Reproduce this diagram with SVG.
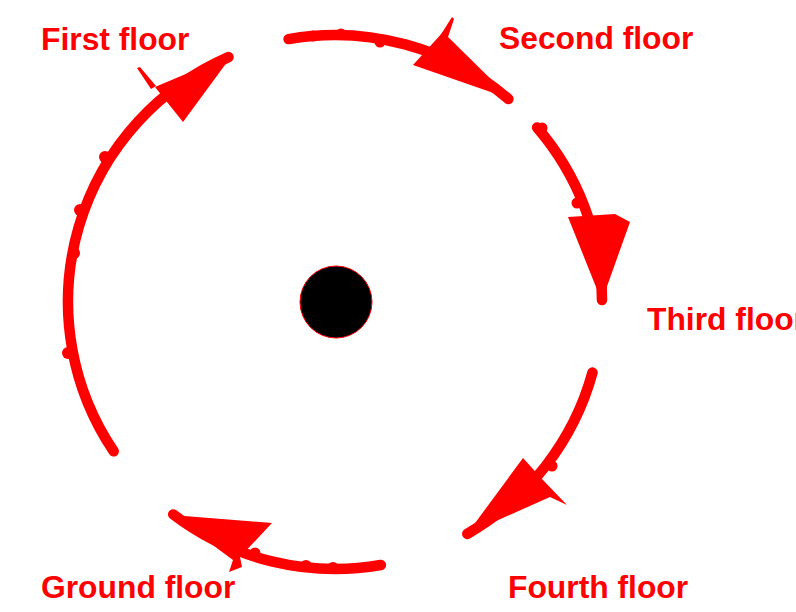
<svg xmlns="http://www.w3.org/2000/svg" width="796" height="612" viewBox="0 0 796 612">
<style>
.arc{fill:none;stroke:#ff0000;stroke-width:10.5;stroke-linecap:round;stroke-linejoin:round}
.head{fill:#ff0000;stroke:none}
.bump{fill:#ff0000}
.lbl{font-family:"Liberation Sans",Arial,sans-serif;font-weight:bold;font-size:31.8px;fill:#ff0000}
</style>
<rect width="796" height="612" fill="#ffffff"/>
<g id="connectors">
<path class="arc" d="M113.7,451.3 A267,267 0 0 1 228.5,57.1"/>
<polygon class="head" points="233,54 155,87 183,122"/>
<polygon class="head" points="137,68 140,67 156,86 151,89"/>
<circle class="bump" cx="105" cy="157" r="6"/>
<circle class="bump" cx="80" cy="210" r="6"/>
<circle class="bump" cx="74" cy="253" r="6"/>
<circle class="bump" cx="68" cy="353" r="6"/>
<path class="arc" d="M288.6,39.1 A267,267 0 0 1 508.4,99"/>
<polygon class="head" points="511,99 413,65 443,32"/>
<polygon class="head" points="440,36 452,17 454,19 447,40"/>
<circle class="bump" cx="313" cy="36" r="5.5"/>
<circle class="bump" cx="341" cy="34" r="5.5"/>
<circle class="bump" cx="380" cy="42" r="5.5"/>
<circle class="bump" cx="478" cy="78" r="5.5"/>
<path class="arc" d="M537.1,127.5 A267,267 0 0 1 602,300.1"/>
<polygon class="head" points="568,217 615,214 630,222 605,292 598,292"/>
<circle class="bump" cx="542" cy="128" r="5.5"/>
<circle class="bump" cx="577" cy="203" r="5.5"/>
<path class="arc" d="M592.5,372.5 A267,267 0 0 1 467.3,533.9"/>
<polygon class="head" points="467,534 523,458 543,480 567,505 550,497"/>
<circle class="bump" cx="552" cy="466" r="5.5"/>
<path class="arc" d="M380.9,565 A267,267 0 0 1 173.2,514.4"/>
<polygon class="head" points="172,515 272,523 240,557 242,567 229,572 233,560"/>
<circle class="bump" cx="306" cy="566" r="6"/>
<circle class="bump" cx="333" cy="568" r="6"/>
<circle class="bump" cx="255" cy="553" r="5.5"/>
</g>
<g id="hub">
<circle cx="336" cy="302" r="36" fill="#000000" stroke="#ff0000" stroke-width="1"/>
</g>
<g id="first-floor"><text class="lbl" x="41" y="50">First floor</text></g>
<g id="second-floor"><text class="lbl" x="499" y="49">Second floor</text></g>
<g id="third-floor"><text class="lbl" x="647" y="330">Third floor</text></g>
<g id="fourth-floor"><text class="lbl" x="508" y="598">Fourth floor</text></g>
<g id="ground-floor"><text class="lbl" x="41" y="598">Ground floor</text></g>
</svg>
